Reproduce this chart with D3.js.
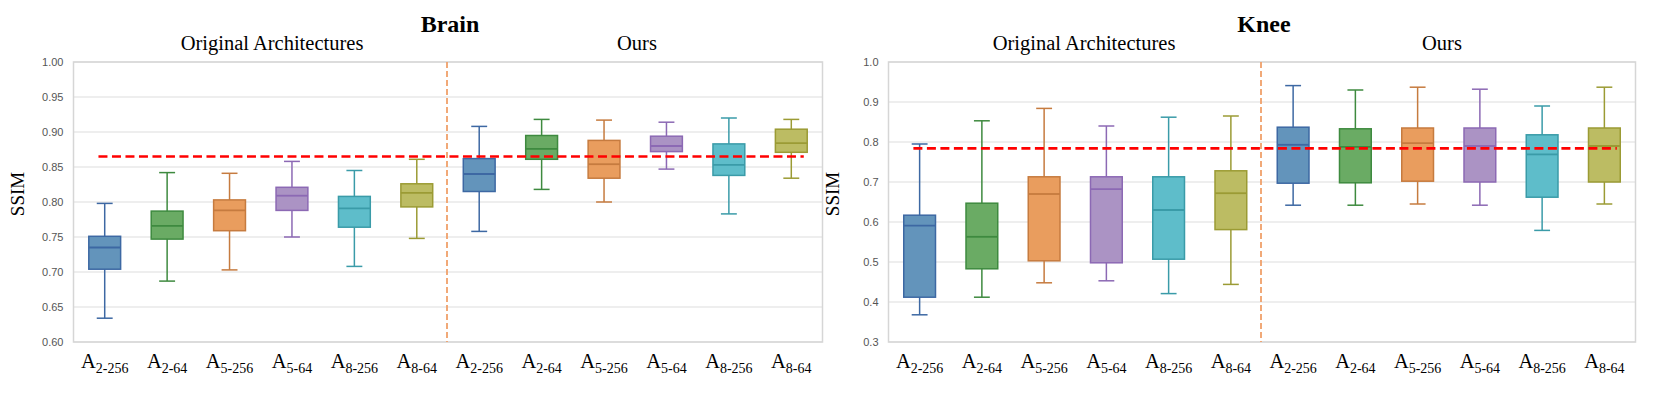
<!DOCTYPE html>
<html>
  <head>
    <meta charset="utf-8">
    <script src="https://d3js.org/d3.v7.min.js"></script>
    <title>SSIM box plots</title>
    <style>
      body { margin: 0px; background: #fff; }
      .tick-label { fill: #555; font-size: 11px; font-family: 'Liberation Sans', Arial, sans-serif; }
      .serif { font-family: 'Liberation Serif', 'Times New Roman', serif; fill: #000; }
    </style>
  </head>
  <body>
    <svg width="1661" height="397"></svg>
    <script>

      // categories (subscripts of A), two groups of six
      const archs = ['2-256', '2-64', '5-256', '5-64', '8-256', '8-64'];
      const groups = ['Original Architectures', 'Ours'];

      // Brain: whisker low, q1, median, q3, whisker high (orig x6, ours x6)
      const brainLow = [0.634, 0.687, 0.703, 0.750, 0.708, 0.748, 0.758, 0.818, 0.800, 0.847, 0.783, 0.834];
      const brainQ1 = [0.704, 0.747, 0.759, 0.788, 0.764, 0.793, 0.815, 0.861, 0.834, 0.872, 0.838, 0.871];
      const brainMed = [0.735, 0.766, 0.788, 0.809, 0.791, 0.813, 0.840, 0.876, 0.854, 0.880, 0.853, 0.884];
      const brainQ3 = [0.751, 0.787, 0.803, 0.821, 0.808, 0.826, 0.862, 0.895, 0.888, 0.894, 0.883, 0.904];
      const brainHigh = [0.798, 0.842, 0.841, 0.858, 0.845, 0.861, 0.908, 0.918, 0.917, 0.914, 0.920, 0.918];
      const brainRef = 0.865;
      const brainTicks = [0.60, 0.65, 0.70, 0.75, 0.80, 0.85, 0.90, 0.95, 1.00];

      // Knee
      const kneeLow = [0.368, 0.412, 0.448, 0.453, 0.421, 0.444, 0.642, 0.642, 0.645, 0.642, 0.579, 0.645];
      const kneeQ1 = [0.412, 0.483, 0.503, 0.498, 0.507, 0.581, 0.697, 0.698, 0.702, 0.700, 0.662, 0.700];
      const kneeMed = [0.591, 0.563, 0.670, 0.682, 0.630, 0.672, 0.793, 0.788, 0.797, 0.790, 0.769, 0.790];
      const kneeQ3 = [0.617, 0.647, 0.713, 0.713, 0.713, 0.728, 0.837, 0.833, 0.835, 0.835, 0.818, 0.835];
      const kneeHigh = [0.795, 0.853, 0.884, 0.840, 0.862, 0.865, 0.941, 0.930, 0.937, 0.932, 0.890, 0.937];
      const kneeRef = 0.784;
      const kneeTicks = [0.3, 0.4, 0.5, 0.6, 0.7, 0.8, 0.9, 1.0];

      const fills = ['#6394bb', '#6aab64', '#e99d5e', '#ab93c4', '#5ebdca', '#bcbc63'];
      const edges = ['#3d68a3', '#3e8a3f', '#c67b3f', '#8c69b4', '#3a9ba8', '#9b9b34'];

      const svg = d3.select('svg');

      const drawPanel = (p) => {
        const g = svg.append('g');
        const n = archs.length * groups.length;
        const xScale = d3.scaleBand()
          .domain(d3.range(n))
          .range([p.left, p.right])
          .padding(0);
        const yScale = d3.scaleLinear()
          .domain([p.ticks[0], p.ticks[p.ticks.length - 1]])
          .range([342, 62]);
        const bw = xScale.bandwidth();
        const boxW = bw * 0.51;

        // grid
        g.selectAll('line.grid').data(p.ticks)
          .enter().append('line')
            .attr('class', 'grid')
            .attr('x1', p.left).attr('x2', p.right)
            .attr('y1', d => yScale(d)).attr('y2', d => yScale(d))
            .attr('stroke', '#dedede').attr('stroke-width', 1.2);

        // y axis labels
        const yAxis = d3.axisLeft(yScale)
          .tickValues(p.ticks)
          .tickFormat(d3.format(p.fmt))
          .tickSize(0)
          .tickPadding(10);
        const yAxisG = g.append('g')
          .attr('transform', `translate(${p.left},0)`)
          .call(yAxis);
        yAxisG.select('.domain').remove();
        yAxisG.selectAll('.tick text').attr('class', 'tick-label').attr('fill', null);

        // frame
        g.append('rect')
          .attr('x', p.left).attr('y', 62)
          .attr('width', p.right - p.left).attr('height', 280)
          .attr('fill', 'none').attr('stroke', '#d6d6d6').attr('stroke-width', 1.5);

        const rows = d3.range(n).map(i => ({
          i, low: p.low[i], q1: p.q1[i], med: p.med[i], q3: p.q3[i], high: p.high[i],
          fill: fills[i % archs.length], edge: edges[i % archs.length]
        }));
        const cx = d => xScale(d.i) + bw / 2;

        const box = g.selectAll('g.box').data(rows).enter().append('g').attr('class', 'box');
        box.append('line')
          .attr('x1', cx).attr('x2', cx)
          .attr('y1', d => yScale(d.high)).attr('y2', d => yScale(d.low))
          .attr('stroke', d => d.edge).attr('stroke-width', 1.5);
        box.append('line')
          .attr('x1', d => cx(d) - boxW / 4).attr('x2', d => cx(d) + boxW / 4)
          .attr('y1', d => yScale(d.high)).attr('y2', d => yScale(d.high))
          .attr('stroke', d => d.edge).attr('stroke-width', 1.5);
        box.append('line')
          .attr('x1', d => cx(d) - boxW / 4).attr('x2', d => cx(d) + boxW / 4)
          .attr('y1', d => yScale(d.low)).attr('y2', d => yScale(d.low))
          .attr('stroke', d => d.edge).attr('stroke-width', 1.5);
        box.append('rect')
          .attr('x', d => cx(d) - boxW / 2)
          .attr('y', d => yScale(d.q3))
          .attr('width', boxW)
          .attr('height', d => yScale(d.q1) - yScale(d.q3))
          .attr('fill', d => d.fill)
          .attr('stroke', d => d.edge).attr('stroke-width', 1.5);
        box.append('line')
          .attr('x1', d => cx(d) - boxW / 2).attr('x2', d => cx(d) + boxW / 2)
          .attr('y1', d => yScale(d.med)).attr('y2', d => yScale(d.med))
          .attr('stroke', d => d.edge).attr('stroke-width', 1.8);

        // separator between groups
        const sepX = xScale(archs.length) - 1;
        g.append('line')
          .attr('x1', sepX).attr('x2', sepX)
          .attr('y1', 62).attr('y2', 342)
          .attr('stroke', '#f0a06a').attr('stroke-width', 1.8)
          .attr('stroke-dasharray', '6,3');

        // reference line
        g.append('line')
          .attr('x1', xScale(0) + bw * 0.4)
          .attr('x2', xScale(n - 1) + bw * 0.7)
          .attr('y1', yScale(p.ref)).attr('y2', yScale(p.ref))
          .attr('stroke', '#f00').attr('stroke-width', 2.6)
          .attr('stroke-dasharray', '9,4.5');

        // x tick labels
        const lab = g.selectAll('text.xlab').data(rows).enter().append('text')
          .attr('class', 'xlab serif')
          .attr('x', cx)
          .attr('y', 368)
          .attr('text-anchor', 'middle');
        lab.append('tspan').style('font-size', '20.5px').text('A');
        lab.append('tspan').style('font-size', '14px').attr('dy', 5)
          .text(d => archs[d.i % archs.length]);

        // titles
        g.append('text').attr('class', 'serif')
          .attr('x', sepX + 3).attr('y', 32)
          .attr('text-anchor', 'middle')
          .style('font-size', '24px').style('font-weight', 'bold')
          .text(p.title);
        g.selectAll('text.sub').data(groups).enter().append('text')
          .attr('class', 'sub serif')
          .attr('x', (d, i) => p.subX[i]).attr('y', 50)
          .attr('text-anchor', 'middle')
          .style('font-size', '20.5px')
          .text(d => d);

        g.append('text').attr('class', 'serif')
          .attr('transform', `translate(${p.left - 50},${(62 + 342) / 2 - 8}) rotate(-90)`)
          .attr('text-anchor', 'middle')
          .style('font-size', '19px')
          .text('SSIM');
      };

      drawPanel({
        title: 'Brain', left: 73.5, right: 822.5, ticks: brainTicks, fmt: '.2f',
        low: brainLow, q1: brainQ1, med: brainMed, q3: brainQ3, high: brainHigh,
        ref: brainRef, subX: [272, 637]
      });
      drawPanel({
        title: 'Knee', left: 888.5, right: 1635.5, ticks: kneeTicks, fmt: '.1f',
        low: kneeLow, q1: kneeQ1, med: kneeMed, q3: kneeQ3, high: kneeHigh,
        ref: kneeRef, subX: [1084, 1442]
      });
    </script>
  </body>
</html>
